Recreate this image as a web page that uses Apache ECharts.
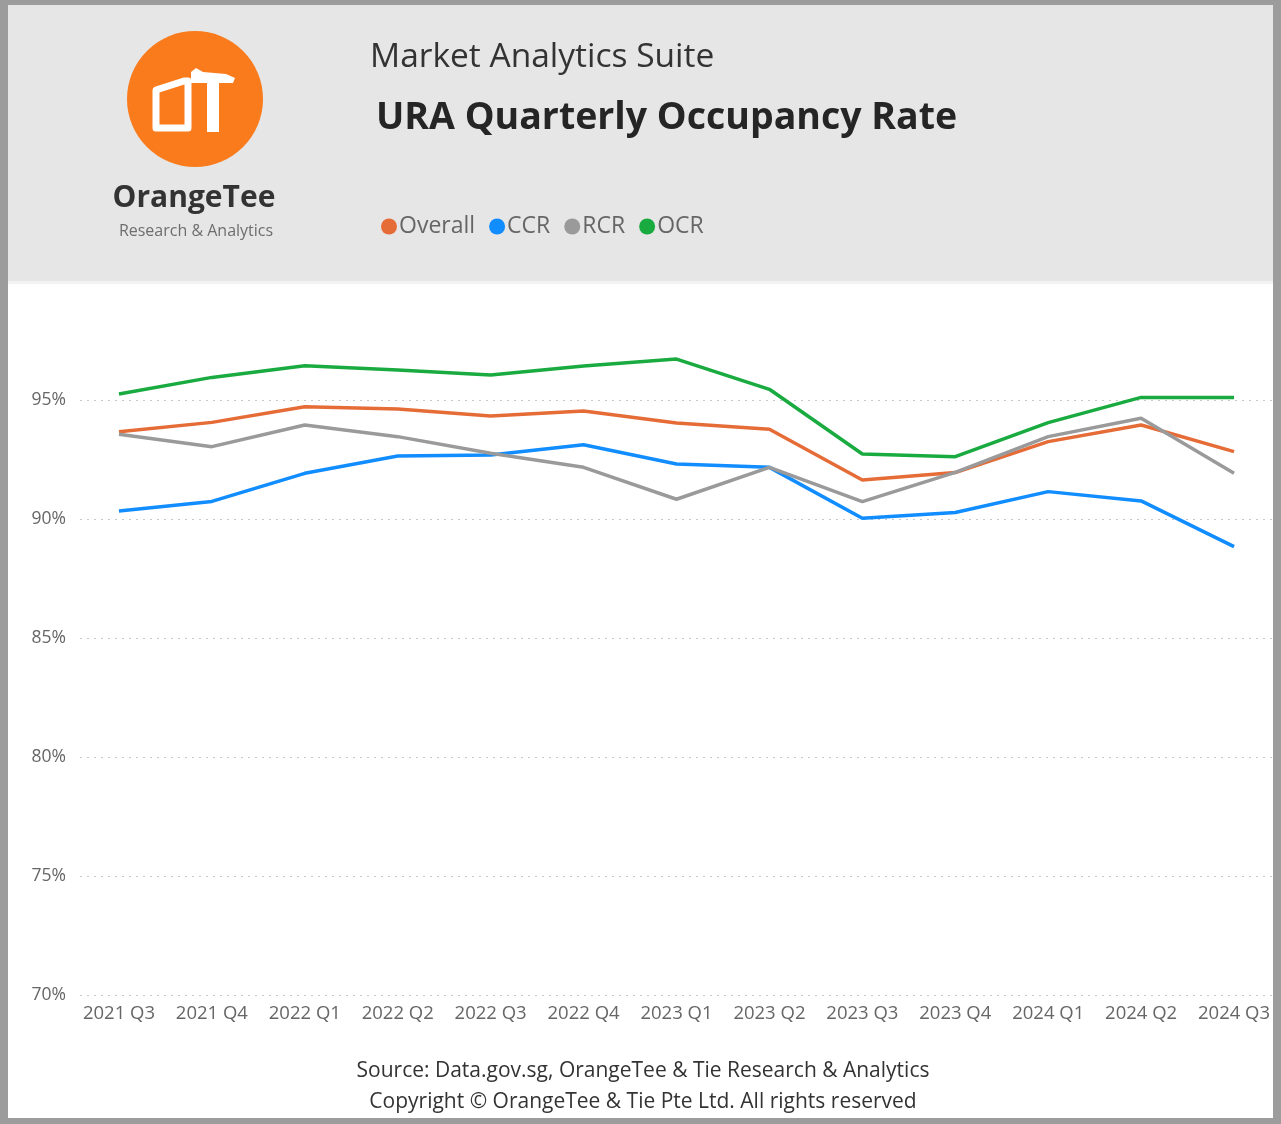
<!DOCTYPE html>
<html>
<head>
<meta charset="utf-8">
<title>URA Quarterly Occupancy Rate</title>
<script src="https://cdn.jsdelivr.net/npm/echarts@6/dist/echarts.min.js"></script>
<style>
  html, body { margin: 0; padding: 0; background: #ffffff; }
  #chart { width: 1281px; height: 1124px; }
</style>
</head>
<body>
<div id="chart"></div>
<script>
  // quarters on the x axis
  const quarters = ['2021 Q3', '2021 Q4', '2022 Q1', '2022 Q2', '2022 Q3', '2022 Q4', '2023 Q1',
    '2023 Q2', '2023 Q3', '2023 Q4', '2024 Q1', '2024 Q2', '2024 Q3'];
  // occupancy rate, %
  const overall = [93.67, 94.06, 94.72, 94.62, 94.33, 94.54, 94.03, 93.77, 91.64, 91.95, 93.25, 93.95, 92.83];
  const ccr = [90.34, 90.74, 91.92, 92.65, 92.69, 93.12, 92.31, 92.17, 90.03, 90.27, 91.15, 90.76, 88.84];
  const rcr = [93.56, 93.04, 93.95, 93.46, 92.76, 92.17, 90.83, 92.17, 90.73, 91.96, 93.46, 94.23, 91.92];
  const ocr = [95.25, 95.95, 96.44, 96.26, 96.05, 96.43, 96.72, 95.45, 92.73, 92.62, 94.05, 95.11, 95.11];
  const yTicks = [70, 75, 80, 85, 90, 95, 100];

  const fontFam = '"Open Sans", "Noto Sans", sans-serif';
  const colors = ['#E66C37', '#118DFF', '#9A9A9A', '#1AAB40'];

  const myChart = echarts.init(document.getElementById('chart'), null, { renderer: 'canvas' });

  function lineSeries(name, data, color) {
    return {
      name: name,
      type: 'line',
      xAxisIndex: 1,
      yAxisIndex: 1,
      data: data,
      showSymbol: false,
      symbol: 'circle',
      lineStyle: { width: 3.5, color: color },
      itemStyle: { color: color },
      z: 5
    };
  }

  myChart.setOption({
    animation: false,
    backgroundColor: '#ffffff',
    textStyle: { fontFamily: fontFam },
    color: colors,
    legend: {
      left: 376,
      top: 210,
      icon: 'circle',
      itemWidth: 16,
      itemHeight: 16,
      itemGap: 14,
      textStyle: { fontSize: 23, color: '#666666', fontFamily: fontFam, padding: [0, 0, 0, -3] },
      data: ['Overall', 'CCR', 'RCR', 'OCR']
    },
    grid: [
      // grid 0 only carries the dotted gridlines and the % labels
      { left: 80, right: 9, top: 281, bottom: 129 },
      // grid 1 carries the lines and the quarter labels
      { left: 72.5, width: 1208, top: 281, bottom: 129 }
    ],
    xAxis: [
      { gridIndex: 0, type: 'category', data: quarters, show: false },
      {
        gridIndex: 1,
        type: 'category',
        data: quarters,
        boundaryGap: true,
        axisLine: { show: false },
        axisTick: { show: false },
        axisLabel: { color: '#666666', fontSize: 18.5, margin: 9, interval: 0 }
      }
    ],
    yAxis: [
      {
        gridIndex: 0,
        type: 'value',
        min: yTicks[0],
        max: yTicks[yTicks.length - 1],
        interval: 5,
        axisLine: { show: false },
        axisTick: { show: false },
        axisLabel: {
          color: '#666666',
          fontSize: 17.5,
          margin: 14,
          showMaxLabel: false,
          formatter: function (v) { return v + '%'; }
        },
        splitLine: {
          show: true,
          showMaxLine: false,
          lineStyle: { color: '#C8C8C8', type: [2, 5], width: 1.2 }
        }
      },
      {
        gridIndex: 1,
        type: 'value',
        min: yTicks[0],
        max: yTicks[yTicks.length - 1],
        interval: 5,
        show: false,
        splitLine: { show: false }
      }
    ],
    series: [
      lineSeries('Overall', overall, colors[0]),
      lineSeries('CCR', ccr, colors[1]),
      lineSeries('RCR', rcr, colors[2]),
      lineSeries('OCR', ocr, colors[3])
    ],
    graphic: [
      // header band
      { type: 'rect', shape: { x: 0, y: 0, width: 1281, height: 281 }, style: { fill: '#E6E6E6' }, z: -10, silent: true },
      { type: 'rect', shape: { x: 0, y: 281, width: 1281, height: 3 }, style: { fill: '#F3F3F3' }, z: -10, silent: true },
      // logo
      { type: 'circle', shape: { cx: 195, cy: 99, r: 68 }, style: { fill: '#F97B1C' }, z: 1 },
      {
        type: 'polygon',
        shape: { points: [[156, 90], [184, 81], [188, 81], [188, 128], [156, 128]] },
        style: { fill: 'none', stroke: '#ffffff', lineWidth: 7, lineJoin: 'round' },
        z: 2
      },
      {
        type: 'polygon',
        shape: { points: [[191, 72], [196, 68], [203, 72], [226, 74], [235, 78], [233, 83],
          [219, 83], [219, 132], [207, 132], [207, 83], [191, 83]] },
        style: { fill: '#ffffff' },
        z: 2
      },
      {
        type: 'text', x: 194, y: 198,
        style: { text: 'OrangeTee', fill: '#333333', font: 'bold 30px ' + fontFam, align: 'center', verticalAlign: 'middle' },
        z: 2
      },
      {
        type: 'text', x: 196, y: 231,
        style: { text: 'Research & Analytics', fill: '#6E6E6E', font: '16px ' + fontFam, align: 'center', verticalAlign: 'middle' },
        z: 2
      },
      // titles
      {
        type: 'text', x: 370, y: 57,
        style: { text: 'Market Analytics Suite', fill: '#333333', font: '33.5px ' + fontFam, align: 'left', verticalAlign: 'middle' },
        z: 2
      },
      {
        type: 'text', x: 376, y: 118,
        style: { text: 'URA Quarterly Occupancy Rate', fill: '#252525', font: 'bold 37.5px ' + fontFam, align: 'left', verticalAlign: 'middle' },
        z: 2
      },
      // footer
      {
        type: 'text', x: 643, y: 1071,
        style: { text: 'Source: Data.gov.sg, OrangeTee & Tie Research & Analytics', fill: '#333333', font: '21px ' + fontFam, align: 'center', verticalAlign: 'middle' },
        z: 2
      },
      {
        type: 'text', x: 643, y: 1102,
        style: { text: 'Copyright \u00A9 OrangeTee & Tie Pte Ltd. All rights reserved', fill: '#333333', font: '21px ' + fontFam, align: 'center', verticalAlign: 'middle' },
        z: 2
      },
      // frame border
      { type: 'rect', shape: { x: 0, y: 0, width: 1281, height: 5 }, style: { fill: '#9C9C9C' }, z: 100, silent: true },
      { type: 'rect', shape: { x: 0, y: 0, width: 8, height: 1124 }, style: { fill: '#9C9C9C' }, z: 100, silent: true },
      { type: 'rect', shape: { x: 1273, y: 0, width: 8, height: 1124 }, style: { fill: '#9C9C9C' }, z: 100, silent: true },
      { type: 'rect', shape: { x: 0, y: 1118, width: 1281, height: 6 }, style: { fill: '#9C9C9C' }, z: 100, silent: true }
    ]
  });

  window.addEventListener('resize', function () {
    myChart.resize();
  });
</script>
</body>
</html>
